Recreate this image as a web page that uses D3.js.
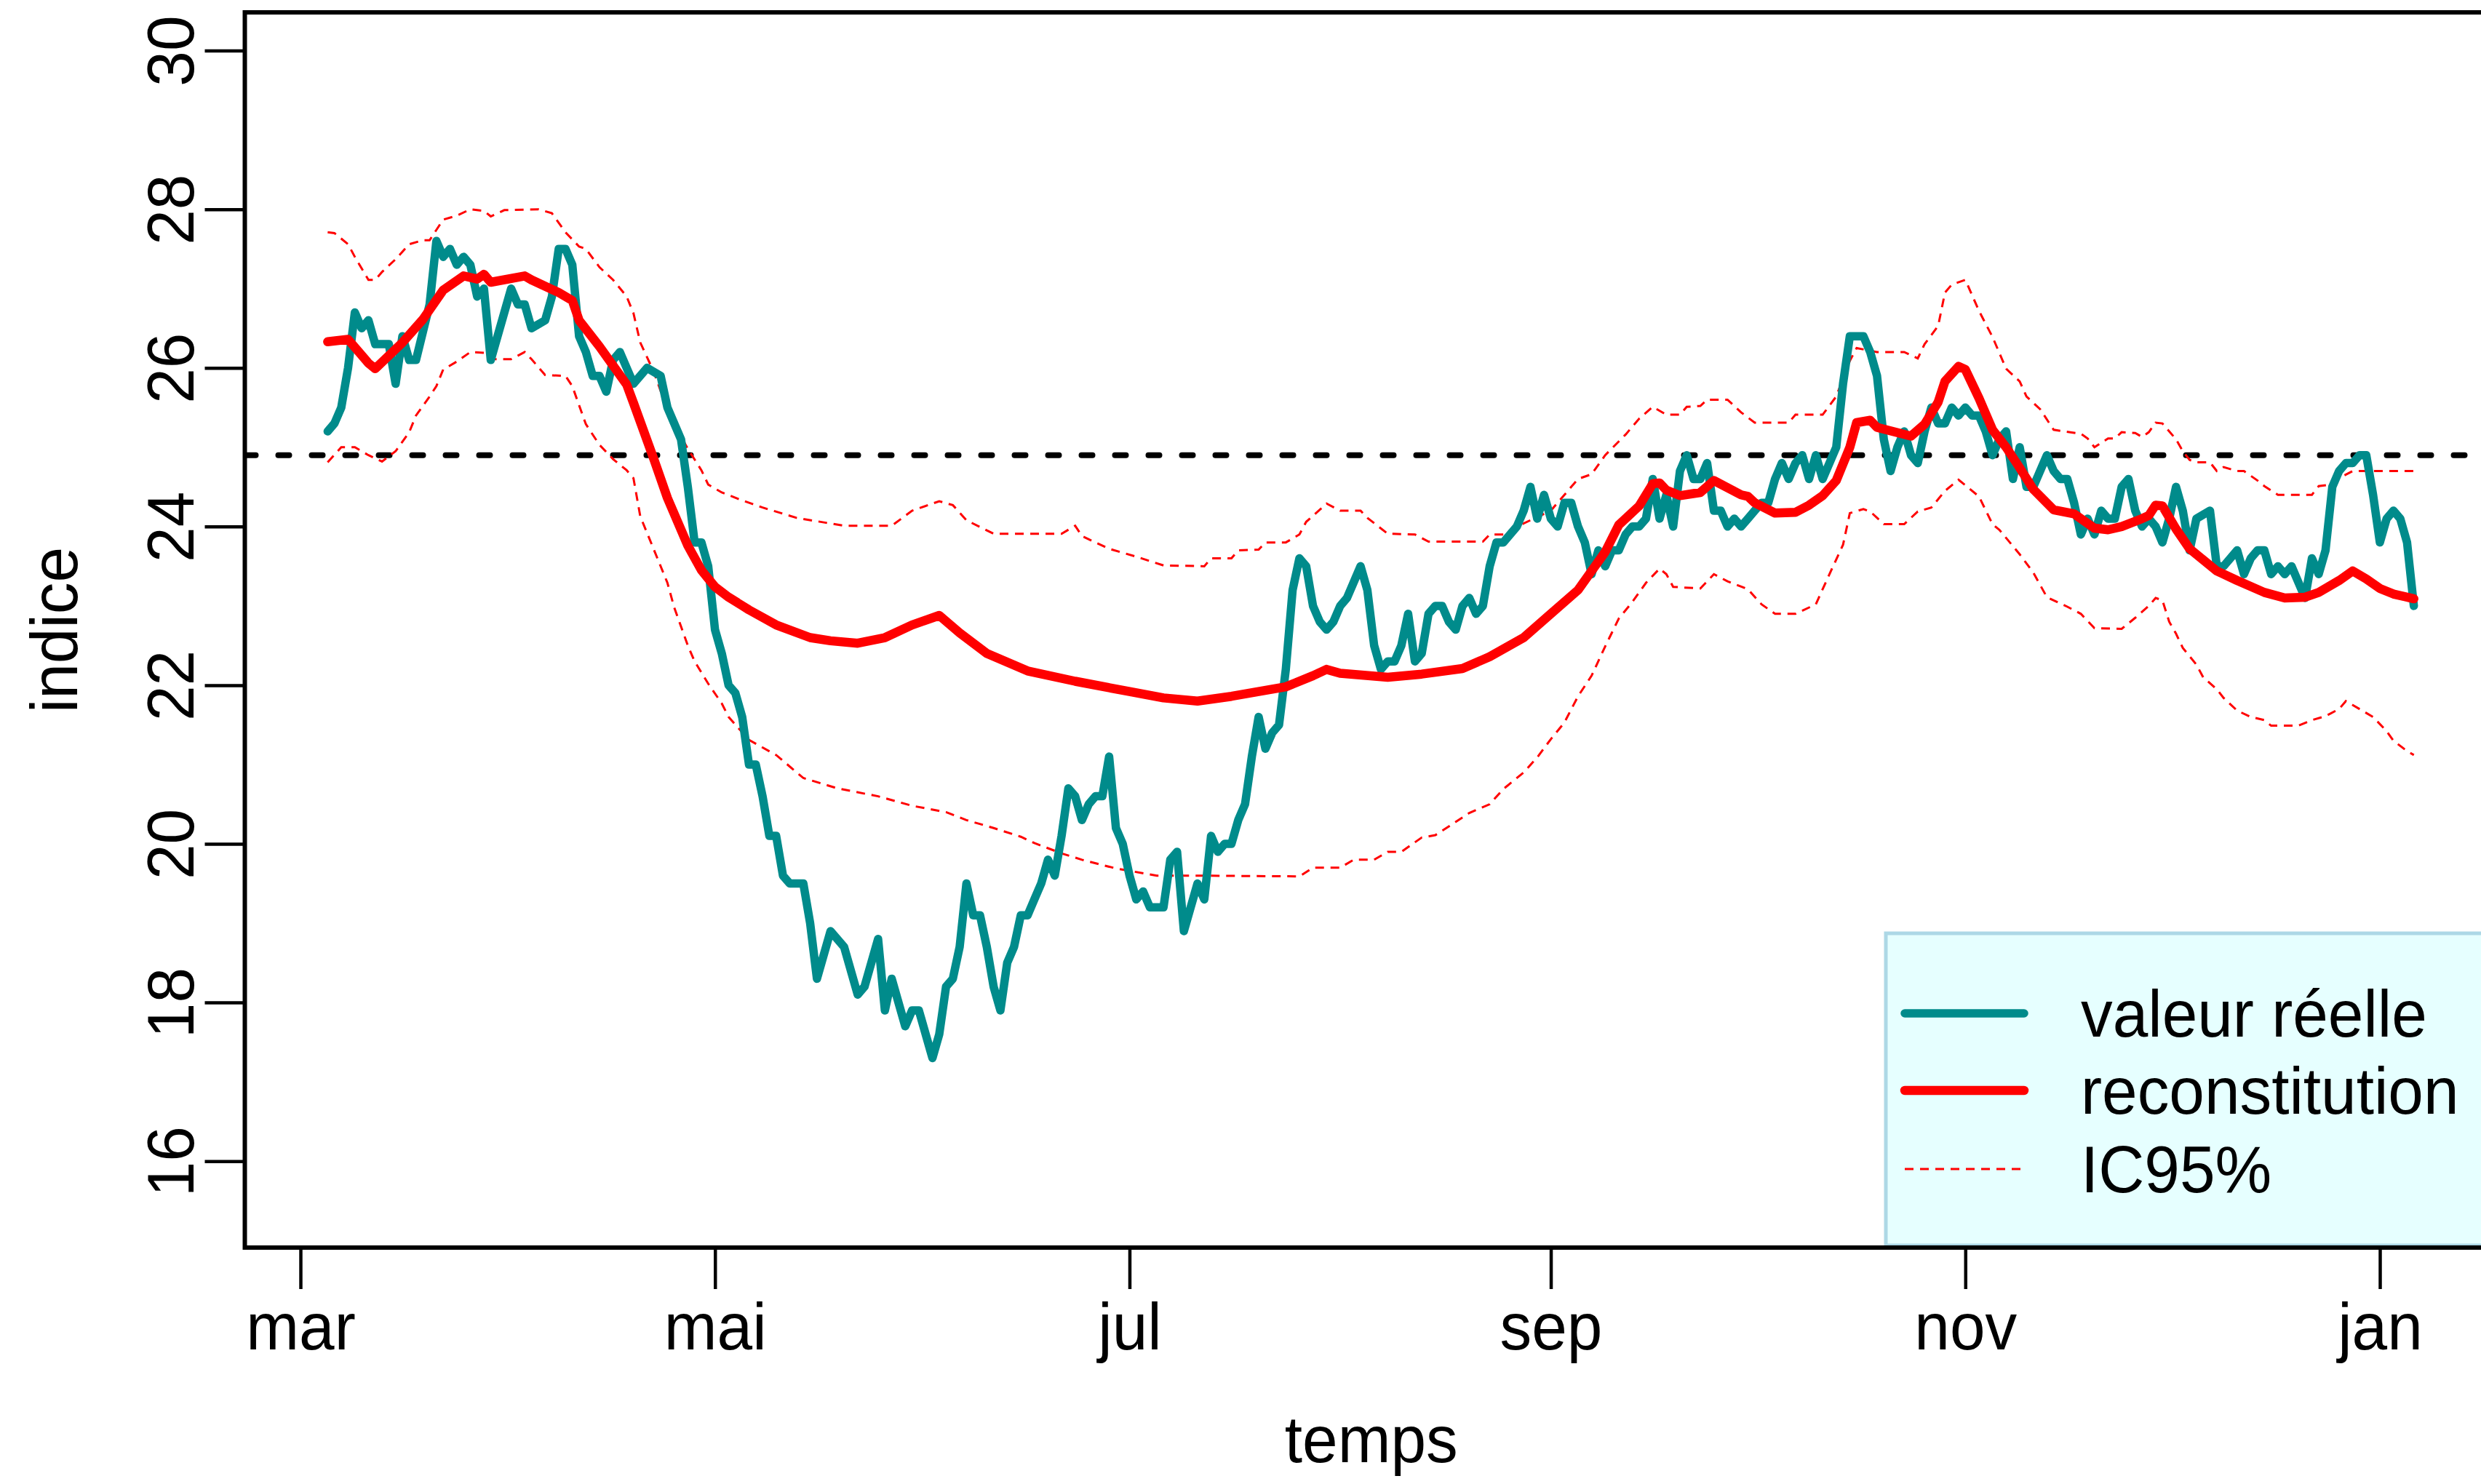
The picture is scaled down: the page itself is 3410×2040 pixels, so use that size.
<!DOCTYPE html>
<html>
<head>
<meta charset="utf-8">
<script src="https://cdn.jsdelivr.net/npm/d3@7"></script>
<style>
  html, body { margin: 0; padding: 0; background: #ffffff; }
  svg { display: block; }
  text { font-family: "Liberation Sans", Arial, Helvetica, sans-serif; fill: #000; }
</style>
</head>
<body>
<svg id="chart" width="3410" height="2040"></svg>
<script>
// ---- data -------------------------------------------------------------
// Each point is [day counted from 1 March, value]
const origine = new Date(2021, 2, 1);

const moisDates  = [new Date(2021, 2, 1), new Date(2021, 4, 1), new Date(2021, 6, 1),
                    new Date(2021, 8, 1), new Date(2021, 10, 1), new Date(2022, 0, 1)];
const moisLabels = ["mar", "mai", "jul", "sep", "nov", "jan"];
const yTicks     = [16, 18, 20, 22, 24, 26, 28, 30];
const seuil      = 24.9;
const legendLabels = ["valeur réelle", "reconstitution", "IC95%"];

const valeurReelle = [
  [4,25.2],[5,25.3],[6,25.5],[7,26.0],[8,26.7],[9,26.5],[10,26.6],[11,26.3],[13,26.3],[14,25.8],
  [15,26.4],[16,26.1],[17,26.1],[19,26.8],[20,27.6],[21,27.4],[22,27.5],[23,27.3],[24,27.4],[25,27.3],
  [26,26.9],[27,27.0],[28,26.1],[31,27.0],[32,26.8],[33,26.8],[34,26.5],[36,26.6],[37,26.9],[38,27.5],
  [39,27.5],[40,27.3],[41,26.4],[42,26.2],[43,25.9],[44,25.9],[45,25.7],[46,26.1],[47,26.2],[49,25.8],
  [51,26.0],[53,25.9],[54,25.5],[56,25.1],[57,24.5],[58,23.8],[59,23.8],[60,23.5],[61,22.7],[62,22.4],
  [63,22.0],[64,21.9],[65,21.6],[66,21.0],[67,21.0],[68,20.6],[69,20.1],[70,20.1],[71,19.6],[72,19.5],
  [74,19.5],[75,19.0],[76,18.3],[78,18.9],[80,18.7],[82,18.1],[83,18.2],[85,18.8],[86,17.9],[87,18.3],
  [89,17.7],[90,17.9],[91,17.9],[93,17.3],[94,17.6],[95,18.2],[96,18.3],[97,18.7],[98,19.5],[99,19.1],
  [100,19.1],[101,18.7],[102,18.2],[103,17.9],[104,18.5],[105,18.7],[106,19.1],[107,19.1],[108,19.3],[109,19.5],
  [110,19.8],[111,19.6],[112,20.1],[113,20.7],[114,20.6],[115,20.3],[116,20.5],[117,20.6],[118,20.6],[119,21.1],
  [120,20.2],[121,20.0],[122,19.6],[123,19.3],[124,19.4],[125,19.2],[127,19.2],[128,19.8],[129,19.9],[130,18.9],
  [131,19.2],[132,19.5],[133,19.3],[134,20.1],[135,19.9],[136,20.0],[137,20.0],[138,20.3],[139,20.5],[140,21.1],
  [141,21.6],[142,21.2],[143,21.4],[144,21.5],[145,22.2],[146,23.2],[147,23.6],[148,23.5],[149,23.0],[150,22.8],
  [151,22.7],[152,22.8],[153,23.0],[154,23.1],[156,23.5],[157,23.2],[158,22.5],[159,22.2],[160,22.3],[161,22.3],
  [162,22.5],[163,22.9],[164,22.3],[165,22.4],[166,22.9],[167,23.0],[168,23.0],[169,22.8],[170,22.7],[171,23.0],
  [172,23.1],[173,22.9],[174,23.0],[175,23.5],[176,23.8],[177,23.8],[178,23.9],[179,24.0],[180,24.2],[181,24.5],
  [182,24.1],[183,24.4],[184,24.1],[185,24.0],[186,24.3],[187,24.3],[188,24.0],[189,23.8],[190,23.4],[191,23.7],
  [192,23.5],[193,23.7],[194,23.7],[195,23.9],[196,24.0],[197,24.0],[198,24.1],[199,24.6],[200,24.1],[201,24.4],
  [202,24.0],[203,24.7],[204,24.9],[205,24.6],[206,24.6],[207,24.8],[208,24.2],[209,24.2],[210,24.0],[211,24.1],
  [212,24.0],[213,24.1],[214,24.2],[215,24.3],[216,24.3],[217,24.6],[218,24.8],[219,24.6],[220,24.8],[221,24.9],
  [222,24.6],[223,24.9],[224,24.6],[226,25.0],[227,25.8],[228,26.4],[230,26.4],[231,26.2],[232,25.9],[233,25.1],
  [234,24.7],[235,25.0],[236,25.2],[237,24.9],[238,24.8],[239,25.2],[240,25.5],[241,25.3],[242,25.3],[243,25.5],
  [244,25.4],[245,25.5],[246,25.4],[247,25.4],[248,25.2],[249,24.9],[250,25.1],[251,25.2],[252,24.6],[253,25.0],
  [254,24.5],[255,24.5],[257,24.9],[258,24.7],[259,24.6],[260,24.6],[261,24.3],[262,23.9],[263,24.1],[264,23.9],
  [265,24.2],[266,24.1],[267,24.1],[268,24.5],[269,24.6],[270,24.2],[271,24.0],[272,24.1],[273,24.0],[274,23.8],
  [275,24.1],[276,24.5],[277,24.2],[278,23.7],[279,24.1],[281,24.2],[282,23.5],[283,23.5],[285,23.7],[286,23.4],
  [287,23.6],[288,23.7],[289,23.7],[290,23.4],[291,23.5],[292,23.4],[293,23.5],[294,23.3],[295,23.1],[296,23.6],
  [297,23.4],[298,23.7],[299,24.5],[300,24.7],[301,24.8],[302,24.8],[303,24.9],[304,24.9],[305,24.4],[306,23.8],
  [307,24.1],[308,24.2],[309,24.1],[310,23.8],[311,23.0]
];

const reconstitution = [
  [4,26.33],[7,26.36],[10,26.06],[11,25.99],[15,26.32],[18,26.61],[21,26.98],[24,27.16],[26,27.12],[27,27.18],
  [28,27.08],[33,27.16],[34,27.11],[38,26.95],[40,26.85],[41,26.6],[44,26.27],[48,25.79],[49,25.56],[52,24.85],
  [54,24.36],[57,23.76],[59,23.45],[61,23.24],[63,23.11],[66,22.95],[70,22.76],[75,22.6],[78,22.56],[82,22.53],
  [86,22.6],[90,22.76],[94,22.88],[97,22.66],[101,22.4],[107,22.18],[114,22.05],[122,21.92],[127,21.84],[132,21.8],
  [137,21.86],[145,21.98],[149,22.12],[151,22.2],[153,22.15],[160,22.1],[165,22.14],[171,22.21],[175,22.36],[180,22.6],
  [184,22.9],[188,23.2],[190,23.44],[192,23.68],[194,24.02],[197,24.26],[199,24.54],[200,24.55],[201,24.46],[203,24.39],
  [206,24.43],[208,24.58],[212,24.4],[213,24.38],[214,24.3],[217,24.17],[220,24.18],[222,24.27],[224,24.39],[226,24.58],
  [228,25.0],[229,25.31],[231,25.34],[232,25.25],[237,25.14],[239,25.29],[241,25.57],[242,25.83],[244,26.02],[245,25.98],
  [247,25.62],[249,25.22],[251,25.0],[253,24.74],[255,24.47],[258,24.21],[261,24.16],[264,23.98],[266,23.96],[268,24.0],
  [271,24.1],[272,24.14],[273,24.27],[274,24.26],[276,23.97],[278,23.72],[280,23.58],[282,23.44],[285,23.32],[289,23.17],
  [292,23.1],[295,23.11],[297,23.17],[300,23.32],[302,23.44],[304,23.34],[306,23.22],[308,23.15],[311,23.09]
];

const icHaut = [
  [4,27.71],[5,27.7],[7,27.56],[8,27.4],[10,27.11],[11,27.11],[12,27.21],[14,27.37],[16,27.56],[18,27.61],
  [19,27.61],[21,27.87],[23,27.92],[25,28.0],[27,27.98],[28,27.91],[30,27.99],[35,28.0],[37,27.95],[39,27.71],
  [41,27.53],[42,27.5],[44,27.27],[46,27.11],[48,26.9],[49,26.69],[50,26.32],[52,25.95],[53,25.71],[55,25.29],
  [57,24.98],[59,24.71],[60,24.53],[62,24.43],[65,24.33],[68,24.24],[73,24.11],[80,24.01],[87,24.01],[90,24.2],
  [94,24.32],[96,24.27],[98,24.08],[102,23.91],[112,23.91],[114,24.01],[115,23.88],[119,23.72],[123,23.62],[127,23.51],
  [133,23.5],[134,23.6],[137,23.6],[138,23.7],[141,23.71],[142,23.8],[145,23.8],[147,23.9],[148,24.06],[151,24.29],
  [153,24.2],[156,24.2],[157,24.11],[160,23.91],[164,23.9],[166,23.81],[174,23.81],[175,23.9],[177,23.9],[179,24.0],
  [182,24.12],[184,24.2],[186,24.4],[188,24.6],[190,24.66],[192,24.9],[195,25.16],[197,25.36],[199,25.51],[201,25.41],
  [203,25.41],[204,25.51],[206,25.52],[207,25.6],[210,25.6],[212,25.44],[214,25.31],[219,25.31],[220,25.41],[224,25.41],
  [226,25.64],[228,26.09],[229,26.25],[232,26.2],[236,26.2],[238,26.12],[239,26.3],[241,26.53],[242,26.95],[243,27.05],
  [245,27.11],[247,26.72],[249,26.39],[251,25.99],[253,25.83],[254,25.64],[256,25.48],[258,25.22],[262,25.17],[263,25.11],
  [264,25.0],[266,25.11],[267,25.11],[268,25.19],[270,25.18],[271,25.13],[272,25.19],[273,25.31],[274,25.3],[276,25.1],
  [277,24.95],[278,24.84],[279,24.81],[281,24.81],[282,24.7],[283,24.75],[285,24.7],[286,24.7],[288,24.58],[289,24.51],
  [291,24.4],[296,24.4],[297,24.51],[299,24.53],[300,24.61],[302,24.7],[311,24.7]
];

const icBas = [
  [4,24.81],[6,25.0],[8,25.0],[10,24.9],[12,24.82],[14,24.95],[16,25.19],[17,25.4],[19,25.64],[20,25.77],
  [21,25.98],[23,26.08],[25,26.2],[27,26.19],[28,26.11],[31,26.11],[33,26.2],[34,26.11],[36,25.91],[39,25.9],
  [40,25.77],[42,25.29],[44,25.03],[46,24.85],[48,24.71],[49,24.61],[50,24.13],[52,23.71],[54,23.29],[55,22.98],
  [57,22.5],[58,22.3],[60,22.02],[62,21.77],[63,21.6],[66,21.31],[70,21.12],[74,20.83],[79,20.7],[85,20.6],
  [90,20.48],[95,20.4],[98,20.3],[102,20.2],[106,20.09],[108,20.01],[112,19.88],[115,19.8],[120,19.69],[126,19.6],
  [131,19.6],[147,19.59],[149,19.7],[153,19.7],[155,19.8],[158,19.8],[160,19.9],[162,19.9],[165,20.08],[167,20.11],
  [169,20.22],[172,20.39],[175,20.5],[177,20.69],[180,20.9],[182,21.09],[184,21.32],[186,21.53],[188,21.86],[190,22.12],
  [192,22.49],[194,22.84],[196,23.05],[198,23.29],[200,23.47],[201,23.4],[202,23.24],[206,23.22],[208,23.4],[210,23.31],
  [213,23.21],[215,23.02],[217,22.9],[220,22.9],[223,23.02],[225,23.4],[227,23.77],[228,24.17],[230,24.22],[231,24.19],
  [233,24.03],[236,24.03],[238,24.19],[240,24.24],[242,24.45],[244,24.59],[247,24.38],[249,24.03],[250,23.96],[253,23.65],
  [255,23.42],[257,23.11],[260,22.99],[262,22.9],[264,22.72],[268,22.71],[270,22.85],[272,23.0],[273,23.1],[274,23.07],
  [275,22.8],[276,22.65],[277,22.47],[279,22.26],[280,22.1],[282,21.95],[283,21.84],[285,21.68],[287,21.6],[289,21.56],
  [290,21.49],[294,21.49],[296,21.56],[298,21.61],[300,21.7],[301,21.8],[303,21.7],[305,21.6],[307,21.42],[308,21.3],
  [310,21.17],[311,21.12]
];

// ---- layout -----------------------------------------------------------
const W = 3410, H = 2040;
const plot = { left: 336.5, top: 17, right: 3433, bottom: 1715 };
const FONT = 91, SQUEEZE = 0.96;
const TEAL = "#008B8B", RED = "#FF0000";
const W_TEAL = 11.5, W_RED = 12.5;

const svg = d3.select("#chart");
svg.append("rect").attr("width", W).attr("height", H).attr("fill", "#ffffff");

const x = d3.scaleTime()
  .domain([moisDates[0], moisDates[moisDates.length - 1]])
  .range([413, 3271]);
const y = d3.scaleLinear().domain([16, 30]).range([1596.2, 69.6]);

const jour = d => d3.timeDay.offset(origine, d);
const ligne = d3.line().x(p => x(jour(p[0]))).y(p => y(p[1]));

svg.append("clipPath").attr("id", "zone")
  .append("rect")
  .attr("x", plot.left).attr("y", plot.top)
  .attr("width", plot.right - plot.left).attr("height", plot.bottom - plot.top);

const g = svg.append("g").attr("clip-path", "url(#zone)");

// reference level
g.append("line")
  .attr("x1", plot.left).attr("x2", plot.right)
  .attr("y1", y(seuil)).attr("y2", y(seuil))
  .attr("stroke", "#000").attr("stroke-width", 8)
  .attr("stroke-dasharray", "15 31").attr("stroke-linecap", "round");

// confidence band edges
[icHaut, icBas].forEach(serie => {
  g.append("path").datum(serie)
    .attr("d", ligne)
    .attr("fill", "none").attr("stroke", RED).attr("stroke-width", 3)
    .attr("stroke-dasharray", "12 9");
});

// observed values
g.append("path").datum(valeurReelle)
  .attr("d", ligne)
  .attr("fill", "none").attr("stroke", TEAL).attr("stroke-width", W_TEAL)
  .attr("stroke-linejoin", "round").attr("stroke-linecap", "round");

// reconstruction
g.append("path").datum(reconstitution)
  .attr("d", ligne)
  .attr("fill", "none").attr("stroke", RED).attr("stroke-width", W_RED)
  .attr("stroke-linejoin", "round").attr("stroke-linecap", "round");

// ---- axes -------------------------------------------------------------
const xAxis = d3.axisBottom(x)
  .tickValues(moisDates)
  .tickFormat((d, i) => moisLabels[i])
  .tickSize(57);
const gx = svg.append("g").attr("transform", `translate(0,${plot.bottom})`).call(xAxis);
gx.select(".domain").remove();
gx.selectAll(".tick line").attr("stroke", "#000").attr("stroke-width", 4.5);
gx.selectAll(".tick text")
  .attr("y", 140).attr("dy", 0)
  .attr("font-size", FONT).attr("fill", "#000")
  .attr("font-family", "Liberation Sans, Arial, sans-serif")
  .attr("transform", `scale(${SQUEEZE},1)`);

const yAxis = d3.axisLeft(y).tickValues(yTicks).tickFormat(d3.format("d")).tickSize(55);
const gy = svg.append("g").attr("transform", `translate(${plot.left},0)`).call(yAxis);
gy.select(".domain").remove();
gy.selectAll(".tick line").attr("stroke", "#000").attr("stroke-width", 4.5);
gy.selectAll(".tick text")
  .attr("x", 0).attr("y", 0).attr("dy", 0)
  .attr("text-anchor", "middle")
  .attr("font-size", FONT).attr("fill", "#000")
  .attr("font-family", "Liberation Sans, Arial, sans-serif")
  .attr("transform", `translate(-71,0) rotate(-90) scale(${SQUEEZE},1)`);

// axis titles
svg.append("text")
  .attr("text-anchor", "middle")
  .attr("font-size", FONT)
  .attr("transform", `translate(${(plot.left + plot.right) / 2},2010) scale(${SQUEEZE},1)`)
  .text("temps");
svg.append("text")
  .attr("text-anchor", "middle")
  .attr("font-size", FONT)
  .attr("transform", `translate(106,${(plot.top + plot.bottom) / 2}) rotate(-90) scale(${SQUEEZE},1)`)
  .text("indice");

// ---- legend -----------------------------------------------------------
const leg = svg.append("g");
leg.append("rect")
  .attr("x", 2592).attr("y", 1283)
  .attr("width", 1000).attr("height", plot.bottom - 3 - 1283)
  .attr("fill", "#E6FFFF").attr("stroke", "#ADD8E6").attr("stroke-width", 5);

const legendStyles = [
  { color: TEAL, width: W_TEAL, dash: null },
  { color: RED, width: W_RED, dash: null },
  { color: RED, width: 3, dash: "12 9" }
];
const legendRows = [1393, 1499, 1607];
legendLabels.forEach((lab, i) => {
  const s = legendStyles[i];
  const l = leg.append("line")
    .attr("x1", 2618).attr("x2", 2782)
    .attr("y1", legendRows[i]).attr("y2", legendRows[i])
    .attr("stroke", s.color).attr("stroke-width", s.width)
    .attr("stroke-linecap", s.dash ? "butt" : "round");
  if (s.dash) l.attr("stroke-dasharray", s.dash);
  leg.append("text")
    .attr("font-size", FONT)
    .attr("transform", `translate(2860,${legendRows[i] + 32}) scale(${SQUEEZE},1)`)
    .text(lab);
});

// ---- plot frame -------------------------------------------------------
svg.append("rect")
  .attr("x", plot.left).attr("y", plot.top)
  .attr("width", plot.right - plot.left).attr("height", plot.bottom - plot.top)
  .attr("fill", "none").attr("stroke", "#000").attr("stroke-width", 6);
</script>
</body>
</html>
